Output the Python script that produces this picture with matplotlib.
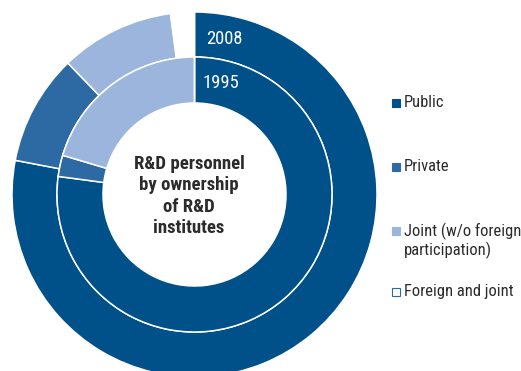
import matplotlib
matplotlib.use("Agg")
import matplotlib.pyplot as plt
from matplotlib.patches import Rectangle

# Shares of R&D personnel by ownership type of the institute (%)
categories = ["Public", "Private", "Joint (w/o foreign\nparticipation)", "Foreign and joint"]
share_2008 = [78.0, 9.8, 10.1, 2.1]
share_1995 = [77.1, 2.5, 20.4, 0.0]
years = ["2008", "1995"]
colors = ["#00508A", "#2D69A3", "#9CB5DC", "#FFFFFF"]

plt.rcParams["font.family"] = ["Roboto Condensed", "DejaVu Sans"]

W, H = 521, 371
fig = plt.figure(figsize=(W / 100, H / 100), dpi=100)
ax = fig.add_axes([0, 0, 1, 1])

cx, cy = 194.5, H - 194.5
wedge_style = dict(edgecolor="white", linewidth=1.1)

# outer ring: 2008, inner ring: 1995
ax.pie(share_2008, radius=182.5, center=(cx, cy), startangle=90, counterclock=False,
       colors=colors, wedgeprops=dict(width=45, **wedge_style))
ax.pie(share_1995, radius=137.5, center=(cx, cy), startangle=90, counterclock=False,
       colors=colors, wedgeprops=dict(width=46, **wedge_style))

ax.set_xlim(0, W)
ax.set_ylim(0, H)
ax.set_aspect("auto")
ax.axis("off")

# ring labels
ax.text(224.5, H - 38.5, years[0], color="white", fontsize=13.3, ha="center", va="center")
ax.text(221, H - 82.5, years[1], color="white", fontsize=13.3, ha="center", va="center")

# centre caption
ax.text(189, H - 196, "R&D personnel\nby ownership\nof R&D\ninstitutes", color="#2B2B2B",
        fontsize=13.5, fontweight="bold", ha="center", va="center", linespacing=1.22)

# legend
legend_y = [103, 167, 231, 292]
for cat, col, y in zip(categories, colors, legend_y):
    ax.add_patch(Rectangle((392, H - y - 3.7), 7.5, 7.5, facecolor=col,
                           edgecolor="#2D69A3" if col == "#FFFFFF" else col, linewidth=0.8))
    ax.text(403.5, H - y + 8.0, cat, color="#2B2B2B", fontsize=11.9, ha="left", va="top",
            linespacing=1.13)

fig.savefig("out.png", dpi=100)
